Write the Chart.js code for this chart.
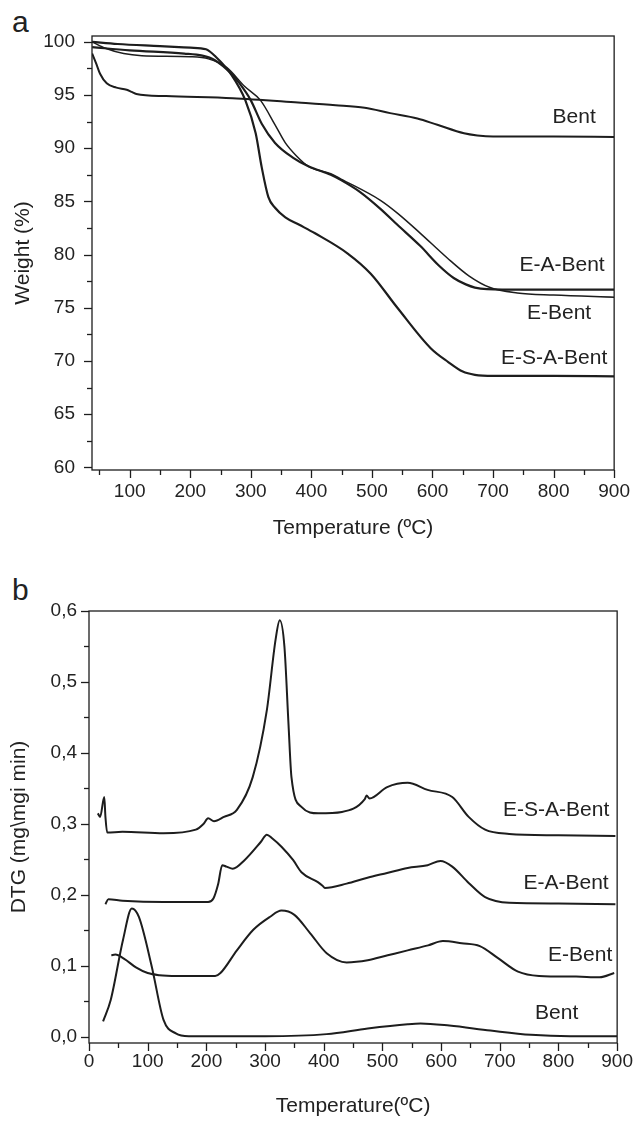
<!DOCTYPE html>
<html>
<head>
<meta charset="utf-8">
<script src="https://cdn.jsdelivr.net/npm/chart.js@4/dist/chart.umd.min.js"></script>
<style>
  html, body { margin: 0; padding: 0; background: #fff; }
  #page { position: relative; width: 640px; height: 1121px; font-family: "Liberation Sans", Arial, sans-serif; color: #222; }
  canvas { position: absolute; left: 0; }
  #tga { top: 0; }
  #dtg { top: 560px; }
  .tag { position: absolute; left: 12px; font-size: 30px; line-height: 1; }
</style>
</head>
<body>
<div id="page">
  <div class="tag" style="top:7px">a</div>
  <canvas id="tga" width="640" height="560"></canvas>
  <div class="tag" style="top:575px">b</div>
  <canvas id="dtg" width="640" height="561"></canvas>
</div>
<script>
// ---- (a) TGA: temperature (ºC) / weight (%) ----
const bentTgaT = [38, 45, 51, 62, 78, 95, 103, 111, 160, 270, 378, 440, 488, 530, 575, 608, 652, 674, 700, 800, 900];
const bentTgaW = [98.9, 97.9, 97.0, 96.1, 95.7, 95.5, 95.3, 95.1, 94.9, 94.7, 94.3, 94.05, 93.8, 93.3, 92.8, 92.2, 91.4, 91.2, 91.1, 91.1, 91.05];

const eaTgaT = [38, 100, 190, 220, 240, 268, 280, 300, 318, 340, 370, 395, 432, 449, 480, 514, 542, 580, 610, 635, 655, 670, 690, 750, 900];
const eaTgaW = [99.5, 99.2, 98.9, 98.7, 98.3, 97.0, 96.2, 94.5, 92.3, 90.5, 89.1, 88.3, 87.5, 87.0, 85.9, 84.3, 82.8, 80.8, 79.0, 77.8, 77.2, 76.9, 76.75, 76.7, 76.7];

const eTgaT = [38, 60, 90, 120, 200, 230, 260, 290, 316, 340, 357, 375, 395, 432, 449, 514, 542, 580, 624, 660, 695, 740, 800, 900];
const eTgaW = [100, 99.4, 98.9, 98.7, 98.6, 98.4, 97.6, 95.8, 94.5, 92.2, 90.5, 89.3, 88.3, 87.6, 87.1, 85.1, 83.9, 82.0, 79.7, 78.0, 76.9, 76.4, 76.2, 76.0];

const esaTgaT = [38, 80, 150, 200, 226, 242, 268, 291, 308, 318, 329, 340, 357, 380, 406, 460, 498, 542, 597, 626, 650, 670, 700, 800, 900];
const esaTgaW = [100, 99.8, 99.6, 99.45, 99.3, 98.6, 96.9, 94.5, 91.4, 88.2, 85.4, 84.4, 83.5, 82.8, 82.0, 80.1, 78.2, 75.0, 71.2, 69.9, 69.0, 68.7, 68.6, 68.6, 68.55];

const tgaTempTicks = [100, 200, 300, 400, 500, 600, 700, 800, 900];
const tgaWeightTicks = [60, 65, 70, 75, 80, 85, 90, 95, 100];

// ---- (b) DTG: temperature (ºC) / DTG ----
const bentDtgT = [24, 37, 58, 73, 85, 107, 127, 148, 170, 300, 405, 475, 543, 565, 614, 684, 753, 820, 900];
const bentDtgV = [0.022, 0.052, 0.137, 0.181, 0.169, 0.099, 0.024, 0.005, 0.001, 0.001, 0.004, 0.012, 0.018, 0.019, 0.016, 0.009, 0.003, 0.001, 0.001];

const eDtgT = [38, 45, 60, 80, 100, 120, 150, 215, 224, 252, 280, 308, 328, 350, 377, 405, 439, 475, 509, 543, 578, 603, 635, 666, 697, 731, 767, 830, 870, 895];
const eDtgV = [0.115, 0.116, 0.110, 0.098, 0.090, 0.087, 0.086, 0.086, 0.090, 0.122, 0.151, 0.169, 0.178, 0.172, 0.146, 0.118, 0.105, 0.108, 0.115, 0.122, 0.129, 0.135, 0.132, 0.128, 0.111, 0.092, 0.086, 0.085, 0.084, 0.090];

const eaDtgT = [28, 33, 57, 127, 203, 212, 220, 227, 234, 245, 265, 293, 303, 312, 328, 348, 362, 390, 398, 402, 439, 473, 508, 543, 577, 599, 619, 647, 675, 716, 800, 897];
const eaDtgV = [0.187, 0.194, 0.192, 0.190, 0.190, 0.195, 0.215, 0.242, 0.240, 0.237, 0.249, 0.275, 0.285, 0.280, 0.268, 0.249, 0.232, 0.218, 0.213, 0.210, 0.216, 0.224, 0.231, 0.238, 0.242, 0.248, 0.240, 0.217, 0.197, 0.189, 0.188, 0.187];

const esaDtgT = [15, 19, 26, 28, 31, 57, 127, 182, 195, 203, 213, 230, 252, 279, 303, 318, 325, 333, 340, 345, 362, 391, 431, 470, 473, 478, 508, 543, 577, 619, 647, 675, 716, 800, 897];
const esaDtgV = [0.315, 0.310, 0.338, 0.310, 0.288, 0.289, 0.287, 0.292, 0.300, 0.308, 0.304, 0.310, 0.320, 0.366, 0.46, 0.56, 0.587, 0.55, 0.44, 0.366, 0.324, 0.315, 0.317, 0.335, 0.340, 0.336, 0.352, 0.358, 0.348, 0.338, 0.310, 0.292, 0.286, 0.284, 0.283];

const dtgTempTicks = [0, 100, 200, 300, 400, 500, 600, 700, 800, 900];
const dtgValueTicks = [0, 0.1, 0.2, 0.3, 0.4, 0.5, 0.6];

const seriesNames = ["Bent", "E-A-Bent", "E-Bent", "E-S-A-Bent"];

const ink = "#1d1d1d";
Chart.defaults.font.family = "'Liberation Sans', Arial, sans-serif";
Chart.defaults.color = "#222";

function line(name, xs, ys, width) {
  return {
    label: name,
    data: xs.map((x, i) => ({ x: x, y: ys[i] })),
    borderColor: ink,
    borderWidth: width,
    pointRadius: 0,
    fill: false,
    cubicInterpolationMode: "monotone",
  };
}

// box, outward ticks (major + minor) and curve names
const frameTicks = {
  id: "frameTicks",
  afterDraw(chart, args, opts) {
    const { ctx, chartArea: a, scales } = chart;
    const xs = scales.x, ys = scales.y;
    ctx.save();
    ctx.strokeStyle = ink;
    ctx.lineWidth = 1.3;
    ctx.strokeRect(a.left, a.top, a.right - a.left, a.bottom - a.top);

    function marks(scale, step, major) {
      const start = Math.ceil(scale.min / step - 1e-9) * step;
      for (let v = start; v <= scale.max + 1e-9; v += step) {
        const isMajor = Math.abs(v / major - Math.round(v / major)) < 1e-6;
        const len = isMajor ? 8 : 5;
        const p = Math.round(scale.getPixelForValue(v)) + 0.5;
        ctx.beginPath();
        if (scale.isHorizontal()) {
          ctx.moveTo(p, a.bottom);
          ctx.lineTo(p, a.bottom + len);
        } else {
          ctx.moveTo(a.left, p);
          ctx.lineTo(a.left - len, p);
        }
        ctx.stroke();
      }
    }
    marks(xs, opts.xMinor, opts.xMajor);
    marks(ys, opts.yMinor, opts.yMajor);

    ctx.fillStyle = "#222";
    ctx.font = "21px 'Liberation Sans', Arial, sans-serif";
    ctx.textAlign = "center";
    ctx.textBaseline = "middle";
    opts.names.forEach((n, i) => {
      ctx.fillText(n, xs.getPixelForValue(opts.nameX[i]), ys.getPixelForValue(opts.nameY[i]));
    });
    ctx.restore();
  },
};

const tickFont = { size: 19 };
const titleFont = { size: 21 };

new Chart(document.getElementById("tga"), {
  type: "line",
  data: {
    datasets: [
      line("Bent", bentTgaT, bentTgaW, 2),
      line("E-A-Bent", eaTgaT, eaTgaW, 2.2),
      line("E-Bent", eTgaT, eTgaW, 1.5),
      line("E-S-A-Bent", esaTgaT, esaTgaW, 2.2),
    ],
  },
  plugins: [frameTicks],
  options: {
    responsive: false,
    animation: false,
    layout: { padding: { top: 36, right: 22, left: 0, bottom: 0 } },
    plugins: {
      legend: { display: false },
      tooltip: { enabled: false },
      frameTicks: {
        xMajor: 100, xMinor: 50, yMajor: 5, yMinor: 2.5,
        names: seriesNames,
        nameX: [834, 814, 809, 801],
        nameY: [92.9, 79.0, 74.5, 70.3],
      },
    },
    scales: {
      x: {
        type: "linear",
        min: 37.7,
        max: 900,
        afterBuildTicks: (s) => { s.ticks = tgaTempTicks.map((v) => ({ value: v })); },
        afterFit: (s) => { s.height = 90; },
        grid: { display: false, drawTicks: false },
        border: { display: false },
        ticks: { autoSkip: false, maxRotation: 0, padding: 10, font: tickFont },
        title: { display: true, text: "Temperature (ºC)", font: titleFont, padding: { top: 0, bottom: 19 } },
      },
      y: {
        type: "linear",
        min: 59.75,
        max: 100.55,
        afterBuildTicks: (s) => { s.ticks = tgaWeightTicks.map((v) => ({ value: v })); },
        afterFit: (s) => { s.width = 92; },
        grid: { display: false, drawTicks: false },
        border: { display: false },
        ticks: { autoSkip: false, padding: 17, font: tickFont },
        title: { display: true, text: "Weight (%)", font: titleFont, padding: { top: 11, bottom: 0 } },
      },
    },
  },
});

new Chart(document.getElementById("dtg"), {
  type: "line",
  data: {
    datasets: [
      line("Bent", bentDtgT, bentDtgV, 2),
      line("E-A-Bent", eaDtgT, eaDtgV, 2),
      line("E-Bent", eDtgT, eDtgV, 2),
      line("E-S-A-Bent", esaDtgT, esaDtgV, 2),
    ],
  },
  plugins: [frameTicks],
  options: {
    responsive: false,
    animation: false,
    layout: { padding: { top: 51, right: 21, left: 0, bottom: 0 } },
    plugins: {
      legend: { display: false },
      tooltip: { enabled: false },
      frameTicks: {
        xMajor: 100, xMinor: 50, yMajor: 0.1, yMinor: 0.05,
        names: seriesNames,
        nameX: [797, 813, 837, 796],
        nameY: [0.034, 0.217, 0.115, 0.320],
      },
    },
    scales: {
      x: {
        type: "linear",
        min: 0,
        max: 900,
        afterBuildTicks: (s) => { s.ticks = dtgTempTicks.map((v) => ({ value: v })); },
        afterFit: (s) => { s.height = 78; },
        grid: { display: false, drawTicks: false },
        border: { display: false },
        ticks: { autoSkip: false, maxRotation: 0, padding: 7, font: tickFont },
        title: { display: true, text: "Temperature(ºC)", font: titleFont, padding: { top: 0, bottom: 2 } },
      },
      y: {
        type: "linear",
        min: -0.0085,
        max: 0.6,
        afterBuildTicks: (s) => { s.ticks = dtgValueTicks.map((v) => ({ value: v })); },
        afterFit: (s) => { s.width = 89; },
        grid: { display: false, drawTicks: false },
        border: { display: false },
        ticks: { autoSkip: false, padding: 12, font: tickFont, callback: (v) => Number(v).toFixed(1).replace(".", ",") },
        title: { display: true, text: "DTG (mg\\mgi min)", font: titleFont, padding: { top: 7, bottom: 0 } },
      },
    },
  },
});
</script>
</body>
</html>
